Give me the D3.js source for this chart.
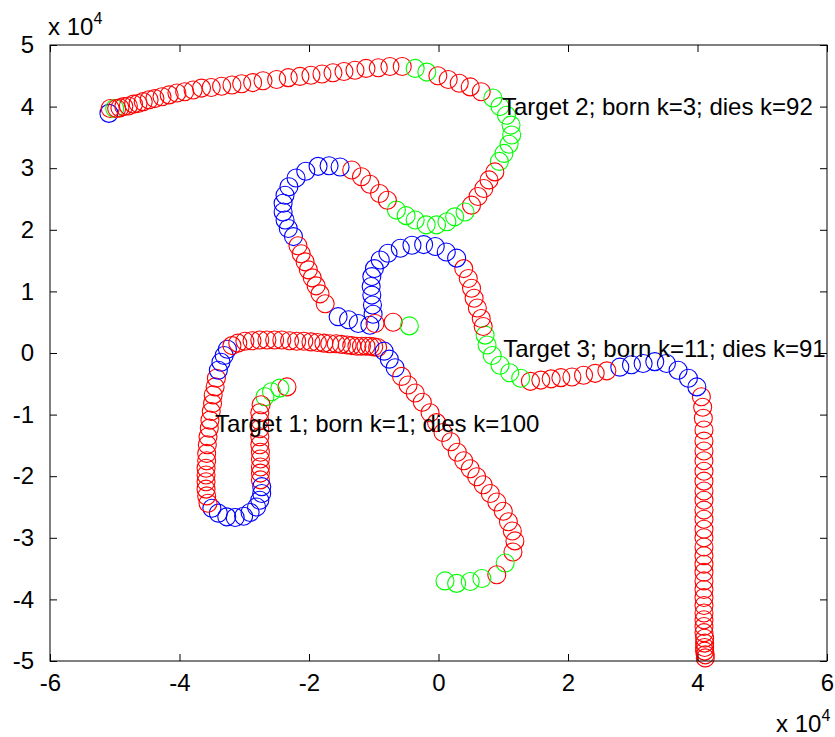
<!DOCTYPE html>
<html>
<head>
<meta charset="utf-8">
<script src="https://cdn.jsdelivr.net/npm/d3@7"></script>
<style>
  body { margin: 0; background: #fff; }
  text { font-family: "Liberation Sans", Arial, Helvetica, sans-serif; }
</style>
</head>
<body>
<svg id="chart" width="835" height="737"></svg>
<script>
// Axis ticks (values in units of 10^4)
const xTickValues = [-6, -4, -2, 0, 2, 4, 6];
const yTickValues = [-5, -4, -3, -2, -1, 0, 1, 2, 3, 4, 5];

// Track estimates: [x, y, colour] with x, y in units of 10^4
// colour: r = red, g = green, b = blue
const target1 = [
  [-2.34,-0.55,'r'],[-2.45,-0.57,'g'],[-2.58,-0.63,'g'],[-2.68,-0.71,'g'],
  [-2.74,-0.84,'r'],[-2.76,-0.97,'r'],[-2.76,-1.10,'r'],[-2.76,-1.23,'r'],[-2.76,-1.36,'r'],
  [-2.76,-1.49,'r'],[-2.75,-1.61,'r'],[-2.75,-1.72,'r'],[-2.75,-1.85,'r'],[-2.75,-1.95,'r'],[-2.75,-2.06,'r'],
  [-2.73,-2.17,'b'],[-2.73,-2.28,'b'],[-2.76,-2.39,'b'],[-2.81,-2.50,'b'],[-2.91,-2.59,'b'],
  [-3.01,-2.65,'b'],[-3.14,-2.67,'b'],[-3.27,-2.66,'b'],[-3.40,-2.60,'b'],[-3.50,-2.52,'b'],
  [-3.56,-2.44,'r'],[-3.58,-2.32,'r'],[-3.59,-2.21,'r'],[-3.59,-2.09,'r'],[-3.59,-1.98,'r'],
  [-3.59,-1.87,'r'],[-3.58,-1.75,'r'],[-3.58,-1.63,'r'],[-3.57,-1.49,'r'],[-3.56,-1.36,'r'],
  [-3.54,-1.22,'r'],[-3.53,-1.09,'r'],[-3.51,-0.95,'r'],[-3.49,-0.82,'r'],[-3.48,-0.68,'r'],
  [-3.45,-0.55,'r'],[-3.43,-0.41,'r'],
  [-3.40,-0.28,'b'],[-3.36,-0.15,'b'],[-3.31,-0.04,'b'],[-3.26,0.06,'b'],
  [-3.19,0.12,'r'],[-3.10,0.16,'r'],[-2.99,0.19,'r'],[-2.88,0.20,'r'],[-2.76,0.21,'r'],
  [-2.65,0.21,'r'],[-2.53,0.21,'r'],[-2.42,0.21,'r'],[-2.30,0.20,'r'],[-2.19,0.19,'r'],
  [-2.08,0.19,'r'],[-1.97,0.18,'r'],[-1.87,0.17,'r'],[-1.77,0.16,'r'],[-1.68,0.15,'r'],
  [-1.58,0.15,'r'],[-1.50,0.14,'r'],[-1.41,0.13,'r'],[-1.34,0.12,'r'],[-1.26,0.11,'r'],
  [-1.19,0.11,'r'],[-1.12,0.11,'r'],[-1.06,0.11,'r'],[-1.00,0.10,'r'],[-0.94,0.09,'r'],
  [-0.84,0.03,'b'],[-0.76,-0.10,'b'],[-0.67,-0.24,'b'],
  [-0.57,-0.38,'r'],[-0.47,-0.52,'r'],[-0.36,-0.65,'r'],[-0.25,-0.80,'r'],[-0.13,-0.97,'r'],
  [-0.03,-1.13,'r'],[0.07,-1.29,'r'],[0.19,-1.44,'r'],[0.29,-1.61,'r'],[0.39,-1.75,'r'],
  [0.49,-1.88,'r'],[0.59,-2.01,'r'],[0.69,-2.14,'r'],[0.80,-2.28,'r'],[0.90,-2.42,'r'],
  [1.00,-2.57,'r'],[1.08,-2.74,'r'],[1.14,-2.89,'r'],[1.18,-3.05,'r'],[1.15,-3.23,'r'],
  [1.03,-3.41,'g'],[0.90,-3.60,'r'],[0.67,-3.66,'g'],[0.49,-3.71,'g'],[0.28,-3.74,'g'],[0.10,-3.70,'g']
];

const target2 = [
  [-5.09,3.89,'b'],[-5.07,3.97,'r'],[-5.00,3.97,'g'],
  [-4.97,3.97,'r'],[-4.92,3.98,'r'],[-4.86,4.00,'r'],[-4.79,4.01,'r'],[-4.71,4.04,'r'],
  [-4.64,4.05,'r'],[-4.56,4.08,'r'],[-4.47,4.11,'r'],[-4.38,4.13,'r'],[-4.27,4.16,'r'],
  [-4.16,4.19,'r'],[-4.04,4.22,'r'],[-3.92,4.24,'r'],[-3.79,4.27,'r'],[-3.66,4.30,'r'],
  [-3.51,4.31,'r'],[-3.35,4.33,'r'],[-3.19,4.35,'r'],[-3.04,4.37,'r'],[-2.87,4.39,'r'],
  [-2.71,4.42,'r'],[-2.50,4.44,'r'],[-2.32,4.47,'r'],[-2.14,4.49,'r'],[-1.97,4.51,'r'],
  [-1.80,4.53,'r'],[-1.63,4.55,'r'],[-1.46,4.57,'r'],[-1.29,4.59,'r'],[-1.12,4.62,'r'],
  [-0.93,4.63,'r'],[-0.75,4.65,'r'],[-0.56,4.65,'r'],
  [-0.36,4.62,'g'],[-0.18,4.56,'g'],
  [-0.01,4.50,'r'],[0.15,4.44,'r'],[0.32,4.38,'r'],[0.49,4.32,'r'],[0.66,4.24,'r'],
  [0.84,4.14,'g'],[0.95,4.00,'g'],[1.05,3.86,'g'],[1.12,3.70,'g'],[1.13,3.54,'g'],
  [1.09,3.39,'g'],[1.01,3.24,'g'],[0.94,3.11,'g'],
  [0.87,2.94,'r'],[0.78,2.81,'r'],[0.70,2.67,'r'],[0.61,2.54,'r'],[0.51,2.40,'r'],
  [0.41,2.29,'g'],[0.25,2.21,'g'],[0.13,2.13,'g'],[-0.03,2.08,'g'],[-0.19,2.08,'g'],
  [-0.36,2.16,'g'],[-0.50,2.23,'g'],[-0.65,2.32,'g'],
  [-0.79,2.48,'r'],[-0.91,2.59,'r'],[-1.06,2.74,'r'],[-1.19,2.86,'r'],[-1.34,2.97,'r'],
  [-1.52,3.02,'b'],[-1.69,3.04,'b'],[-1.86,3.03,'b'],[-2.05,2.95,'b'],[-2.20,2.84,'b'],
  [-2.31,2.70,'b'],[-2.37,2.56,'b'],[-2.40,2.43,'b'],[-2.40,2.29,'b'],[-2.37,2.16,'b'],
  [-2.32,2.02,'b'],[-2.24,1.89,'b'],
  [-2.17,1.74,'r'],[-2.12,1.61,'r'],[-2.06,1.48,'r'],[-2.01,1.35,'r'],[-1.95,1.22,'r'],
  [-1.89,1.09,'r'],[-1.83,0.96,'r'],[-1.75,0.80,'r'],
  [-1.55,0.59,'b'],[-1.39,0.54,'b'],[-1.24,0.48,'b'],[-1.06,0.45,'b']
];

const target3 = [
  [4.12,-4.95,'r'],[4.12,-4.90,'r'],[4.11,-4.84,'r'],[4.11,-4.78,'r'],[4.11,-4.71,'r'],
  [4.11,-4.63,'r'],[4.10,-4.54,'r'],[4.10,-4.44,'r'],[4.10,-4.33,'r'],[4.10,-4.22,'r'],
  [4.10,-4.10,'r'],[4.10,-3.97,'r'],[4.10,-3.84,'r'],[4.10,-3.70,'r'],[4.10,-3.56,'r'],
  [4.10,-3.43,'r'],[4.10,-3.29,'r'],[4.10,-3.15,'r'],[4.10,-3.00,'r'],[4.10,-2.86,'r'],
  [4.10,-2.70,'r'],[4.10,-2.55,'r'],[4.10,-2.39,'r'],[4.10,-2.24,'r'],[4.10,-2.08,'r'],
  [4.10,-1.92,'r'],[4.10,-1.75,'r'],[4.10,-1.59,'r'],[4.10,-1.43,'r'],[4.10,-1.25,'r'],
  [4.09,-1.06,'r'],[4.08,-0.88,'r'],[4.06,-0.71,'r'],
  [3.99,-0.55,'b'],[3.86,-0.41,'b'],[3.70,-0.28,'b'],[3.52,-0.17,'b'],[3.34,-0.14,'b'],
  [3.16,-0.17,'b'],[2.98,-0.19,'b'],[2.80,-0.23,'b'],
  [2.60,-0.29,'r'],[2.42,-0.33,'r'],[2.24,-0.36,'r'],[2.06,-0.39,'r'],[1.89,-0.40,'r'],
  [1.74,-0.42,'r'],[1.58,-0.44,'r'],[1.42,-0.46,'r'],
  [1.27,-0.41,'g'],[1.10,-0.32,'g'],[0.95,-0.20,'g'],[0.83,-0.04,'g'],[0.75,0.13,'g'],[0.72,0.29,'g'],
  [0.69,0.43,'r'],[0.66,0.56,'r'],[0.60,0.73,'r'],[0.55,0.89,'r'],[0.51,1.05,'r'],
  [0.46,1.21,'r'],[0.39,1.37,'r'],
  [0.28,1.54,'b'],[0.12,1.64,'b'],[-0.05,1.73,'b'],[-0.23,1.76,'b'],[-0.41,1.75,'b'],
  [-0.59,1.70,'b'],[-0.78,1.62,'b'],[-0.90,1.51,'b'],[-0.99,1.37,'b'],[-1.03,1.24,'b'],
  [-1.04,1.08,'b'],[-1.03,0.94,'b'],[-1.02,0.78,'b'],[-1.01,0.63,'b'],
  [-0.98,0.48,'r'],[-0.70,0.50,'r'],[-0.45,0.44,'g']
];

const trackLabels = [
  { text: "Target 1; born k=1; dies k=100", x: -3.45, y: -1.15 },
  { text: "Target 2; born k=3; dies k=92",  x: 0.98,  y: 4.0 },
  { text: "Target 3; born k=11; dies k=91", x: 1.0,   y: 0.065 }
];

const colourOf = { r: "#ff0000", g: "#00ff00", b: "#0000ff" };

const svg = d3.select("#chart");
const plotLeft = 50, plotRight = 827, plotTop = 45, plotBottom = 661;
const fontSize = 24;

const x = d3.scaleLinear().domain([-6, 6]).range([plotLeft, plotRight]);
const y = d3.scaleLinear().domain([-5, 5]).range([plotBottom, plotTop]);

svg.append("rect").attr("width", 835).attr("height", 737).attr("fill", "#fff");

// Track markers, drawn in time order
const plot = svg.append("g");
[target1, target2, target3].forEach(track => {
  plot.append("g").selectAll("circle").data(track).join("circle")
    .attr("cx", d => x(d[0]))
    .attr("cy", d => y(d[1]))
    .attr("r", 9)
    .attr("fill", "none")
    .attr("stroke", d => colourOf[d[2]])
    .attr("stroke-width", 1.1);
});

// Track annotations
svg.append("g").selectAll("text").data(trackLabels).join("text")
  .attr("x", d => x(d.x))
  .attr("y", d => y(d.y))
  .attr("dy", "0.35em")
  .attr("font-size", fontSize)
  .attr("fill", "#000")
  .text(d => d.text);

// Axes with inward ticks on all four sides
const tickLen = 7;
const fmt = d => d3.format("d")(d).replace("\u2212", "-");
const axisStyle = g => {
  g.select(".domain").remove();
  g.selectAll(".tick line").attr("stroke", "#000").attr("stroke-width", 1);
  g.selectAll(".tick text").attr("font-size", fontSize).attr("fill", "#000")
    .attr("font-family", '"Liberation Sans", Arial, Helvetica, sans-serif');
};

svg.append("g").attr("transform", `translate(0,${plotBottom})`)
  .call(d3.axisBottom(x).tickValues(xTickValues).tickSizeInner(-tickLen).tickSizeOuter(0).tickPadding(13).tickFormat(fmt))
  .call(axisStyle);
svg.append("g").attr("transform", `translate(0,${plotTop})`)
  .call(d3.axisTop(x).tickValues(xTickValues).tickSizeInner(-tickLen).tickSizeOuter(0).tickFormat(""))
  .call(axisStyle);
svg.append("g").attr("transform", `translate(${plotLeft},0)`)
  .call(d3.axisLeft(y).tickValues(yTickValues).tickSizeInner(-tickLen).tickSizeOuter(0).tickPadding(16).tickFormat(fmt))
  .call(axisStyle);
svg.append("g").attr("transform", `translate(${plotRight},0)`)
  .call(d3.axisRight(y).tickValues(yTickValues).tickSizeInner(-tickLen).tickSizeOuter(0).tickFormat(""))
  .call(axisStyle);

// Frame
svg.append("rect")
  .attr("x", plotLeft).attr("y", plotTop)
  .attr("width", plotRight - plotLeft).attr("height", plotBottom - plotTop)
  .attr("fill", "none").attr("stroke", "#000").attr("stroke-width", 1);

// Exponent labels
function exponentLabel(px, py) {
  const t = svg.append("text").attr("x", px).attr("y", py)
    .attr("font-size", fontSize).attr("fill", "#000");
  t.append("tspan").text("x 10");
  t.append("tspan").attr("dy", -11).attr("font-size", 16).text("4");
}
exponentLabel(48, 35);
exponentLabel(776, 732);
</script>
</body>
</html>
